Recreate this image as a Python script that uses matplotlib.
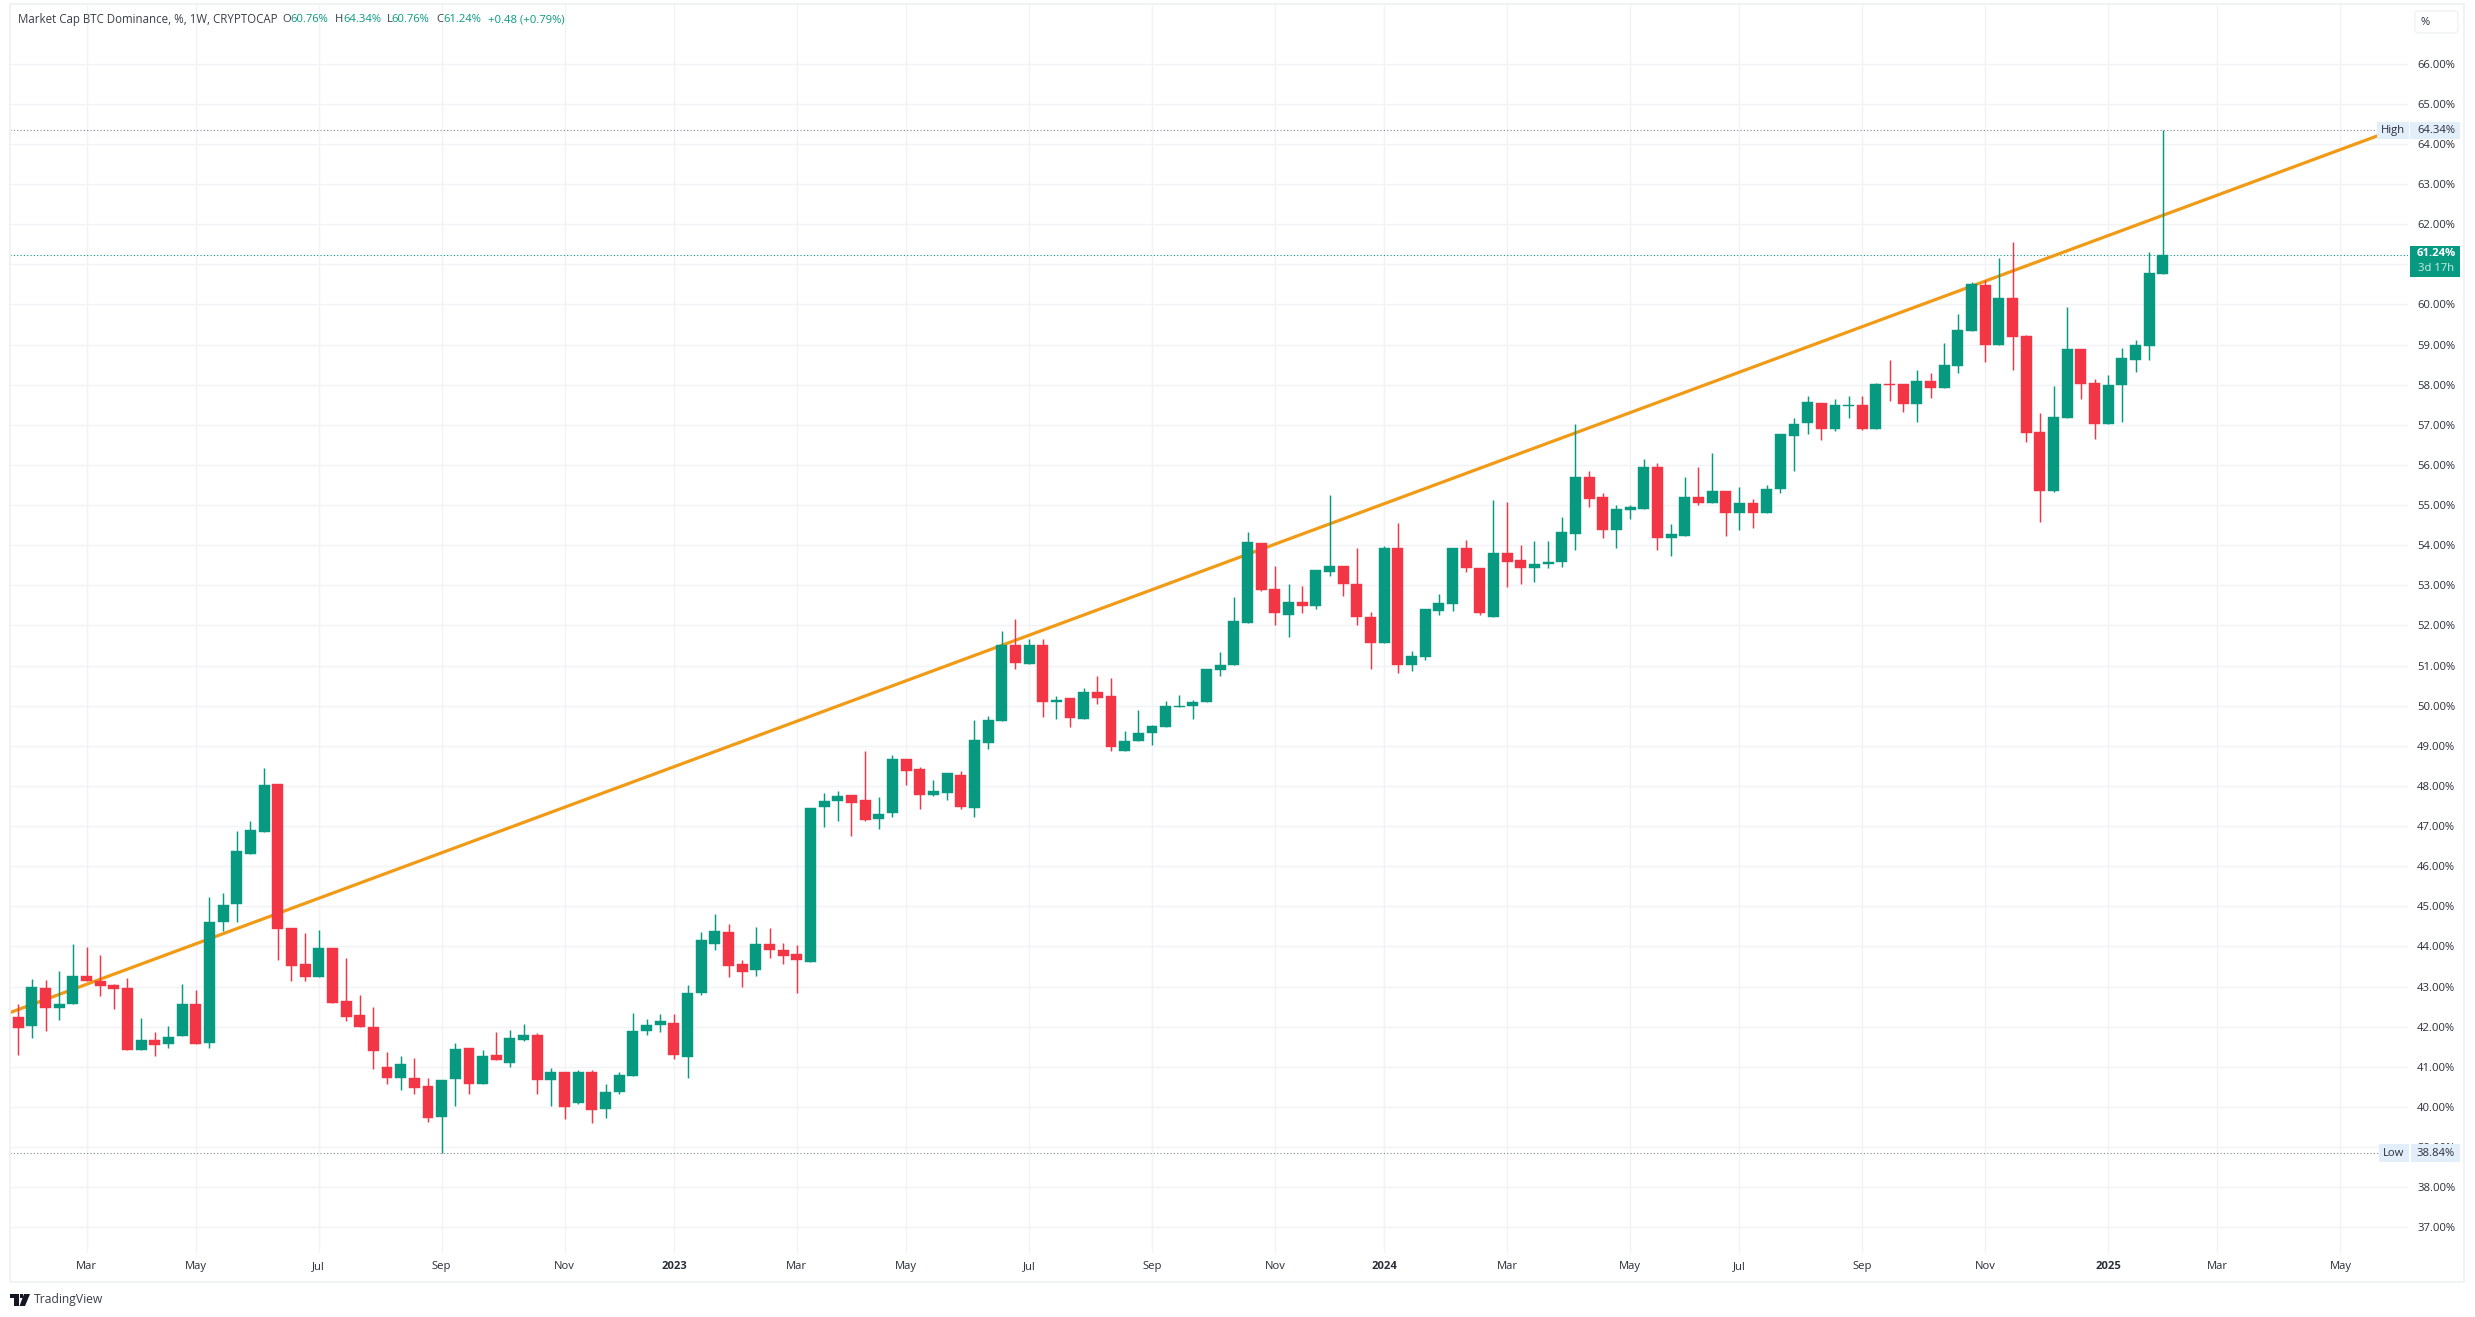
import matplotlib
matplotlib.use("Agg")
import matplotlib.pyplot as plt
from matplotlib.patches import Rectangle, Polygon, FancyBboxPatch

opens = [42.25,42.01,42.97,42.46,42.56,43.27,43.15,43.05,42.97,41.41,41.67,41.56,41.76,42.57,41.59,44.62,45.05,46.31,46.86,48.06,
44.46,43.55,43.23,43.95,42.63,42.28,41.98,41.00,40.73,40.71,40.53,39.74,40.69,41.48,40.56,41.30,41.09,41.68,41.80,40.66,
40.86,40.11,40.86,39.96,40.36,40.78,41.90,42.03,42.08,41.25,42.83,44.07,44.37,43.55,43.42,44.05,43.90,43.80,43.60,47.48,
47.63,47.78,47.66,47.18,47.33,48.68,48.43,47.78,47.83,48.28,47.46,49.08,49.61,51.52,51.05,51.50,50.08,50.18,49.68,50.33,
50.23,48.88,49.11,49.31,49.48,49.97,49.98,50.08,50.90,51.02,52.07,54.06,52.92,52.27,52.59,52.49,53.34,53.49,53.02,52.22,
51.57,53.94,51.02,51.22,52.35,52.54,53.94,53.44,52.22,53.81,53.62,53.42,53.52,53.59,54.29,55.69,55.19,54.37,54.87,54.91,
55.94,54.17,54.24,55.19,55.06,55.36,54.79,55.06,54.79,55.39,56.73,57.04,57.54,56.89,57.47,57.49,56.89,58.01,58.01,57.52,
58.09,57.91,58.46,59.34,60.48,58.99,60.16,59.21,56.82,55.35,57.17,58.89,58.04,57.02,57.99,58.61,58.96,60.76]
highs = [42.57,43.19,43.16,43.39,44.06,43.99,43.79,43.06,43.22,42.22,41.87,42.02,43.06,42.92,45.23,45.33,46.88,47.13,48.45,48.06,
44.46,44.34,44.41,43.96,43.71,42.79,42.49,41.37,41.28,41.22,40.72,40.68,41.60,41.48,41.43,41.87,41.92,42.07,41.83,40.98,
40.86,40.93,40.93,40.58,40.88,42.34,42.19,42.32,42.32,43.04,44.36,44.81,44.56,43.66,44.49,44.46,44.09,44.04,47.46,47.82,
47.87,47.78,48.87,47.72,48.77,48.68,48.47,48.15,48.33,48.37,49.65,49.75,51.86,52.16,51.66,51.66,50.24,50.18,50.45,50.75,
50.68,49.36,49.90,49.52,50.12,50.27,50.13,50.92,51.35,52.72,54.34,54.06,53.49,53.02,52.99,53.37,55.25,53.49,53.94,52.34,
53.99,54.56,51.37,52.40,52.79,53.94,54.14,53.44,55.13,55.08,54.01,54.11,54.11,54.69,57.03,55.86,55.29,55.01,55.01,56.14,
56.06,54.52,55.69,55.94,56.29,55.36,55.46,55.16,55.51,56.76,57.18,57.72,57.54,57.64,57.72,57.72,58.05,58.61,58.01,58.36,
58.30,59.05,59.76,60.55,60.60,61.15,61.55,59.23,57.29,57.96,59.93,58.89,58.14,58.24,58.91,59.11,61.30,64.34]
lows = [41.30,41.73,41.89,42.16,42.56,43.15,42.76,42.43,41.41,41.41,41.26,41.46,41.76,41.56,41.46,44.39,44.62,46.31,46.86,43.66,
43.15,43.15,43.23,42.60,42.13,41.99,40.94,40.56,40.43,40.33,39.63,38.84,40.03,40.31,40.56,41.16,40.99,41.65,40.31,40.03,
39.69,40.08,39.61,39.73,40.31,40.78,41.79,41.86,41.20,40.71,42.80,43.92,43.25,42.99,43.27,43.72,43.57,42.83,43.60,46.98,
47.13,46.76,47.12,46.92,47.23,48.03,47.43,47.76,47.66,47.43,47.23,48.93,49.61,50.92,51.05,49.73,49.68,49.48,49.66,50.05,
48.88,48.86,49.11,49.03,49.48,49.97,49.68,50.08,50.75,51.02,52.07,52.87,52.02,51.70,52.30,52.42,53.24,52.74,52.00,50.92,
51.57,50.82,50.87,51.15,52.27,52.37,53.34,52.27,52.22,52.97,53.04,53.09,53.42,53.45,53.89,54.94,54.19,53.92,54.64,54.91,
53.87,53.72,54.24,55.01,55.06,54.22,54.39,54.42,54.79,55.31,55.86,56.77,56.62,56.84,57.17,56.87,56.89,57.59,57.32,57.07,
57.66,57.91,58.29,59.34,58.56,58.99,58.36,56.57,54.57,55.32,57.17,57.64,56.64,57.02,57.07,58.31,58.61,60.76]
closes = [41.96,42.99,42.46,42.57,43.27,43.15,43.02,42.95,41.41,41.67,41.54,41.75,42.57,41.58,44.62,45.04,46.39,46.91,48.03,44.43,
43.52,43.23,43.95,42.60,42.25,41.99,41.39,40.73,41.08,40.48,39.72,40.68,41.45,40.56,41.28,41.16,41.73,41.80,40.68,40.88,
40.01,40.88,39.93,40.38,40.80,41.90,42.05,42.13,41.30,42.85,44.15,44.39,43.52,43.37,44.05,43.92,43.75,43.65,47.46,47.63,
47.76,47.58,47.16,47.31,48.68,48.38,47.78,47.88,48.33,47.48,49.15,49.65,51.50,51.07,51.50,50.08,50.15,49.70,50.33,50.20,
48.98,49.13,49.33,49.50,49.98,50.00,50.10,50.92,51.02,52.10,54.09,52.89,52.32,52.59,52.49,53.37,53.47,53.02,52.20,51.57,
53.94,51.02,51.25,52.40,52.57,53.94,53.44,52.32,53.81,53.59,53.44,53.54,53.59,54.32,55.71,55.14,54.37,54.89,54.94,55.96,
54.17,54.27,55.19,55.06,55.34,54.79,55.06,54.79,55.39,56.76,57.01,57.57,56.89,57.49,57.49,56.89,58.01,57.99,57.52,58.09,
57.91,58.49,59.36,60.50,58.99,60.16,59.18,56.79,55.35,57.19,58.89,58.01,57.02,57.99,58.66,58.99,60.78,61.24]

price_ticks = list(range(37, 67))
time_tick_pos = [5,13,22,31,40,48,57,65,74,83,92,100,109,118,126,135,144,153,161,170]
time_tick_labels = ["Mar","May","Jul","Sep","Nov","2023","Mar","May","Jul","Sep","Nov","2024","Mar","May","Jul","Sep","Nov","2025","Mar","May"]
trend_x = [-0.6, 173.1]
trend_y = [42.35, 64.25]
high_price, low_price, last_price = 64.34, 38.84, 61.24

GREEN, RED, GRID, TXT = "#089981", "#F23645", "#F1F3F6", "#2A2E39"
plt.rcParams["font.family"] = ["Open Sans", "DejaVu Sans"]
W, H = 2475, 1317
fig = plt.figure(figsize=(W/100, H/100), dpi=100, facecolor="white")
fx = lambda x: x / W
fy = lambda y: 1 - y / H

L, R, T, B = 10, 2408, 4, 1253
STEP = 13.66
ax = fig.add_axes([fx(L), fy(B), (R-L)/W, (B-T)/H])
ax.set_xlim((L-18.2)/STEP, (R-18.2)/STEP)
ax.set_ylim(37-(B-1227.3)/40.125, 37+(1227.3-T)/40.125)
for s in ax.spines.values():
    s.set_visible(False)
ax.set_axisbelow(True)
ax.grid(True, color=GRID, lw=1.0)
ax.yaxis.tick_right()
ax.set_yticks(price_ticks)
ax.set_yticklabels([f"{p:.2f}%" for p in price_ticks])
ax.set_xticks(time_tick_pos)
ax.set_xticklabels(time_tick_labels)
ax.tick_params(axis="both", length=0, labelsize=8.1, labelcolor=TXT)
ax.tick_params(axis="y", pad=6.5)
ax.tick_params(axis="x", pad=5.5)
for t in ax.get_xticklabels():
    if t.get_text().isdigit():
        t.set_fontweight("bold")

ax.plot(trend_x, trend_y, color="#F09A15", lw=2.3, zorder=2, solid_capstyle="butt")
ax.axhline(high_price, color="#7F8590", lw=0.8, ls=(0, (1, 2)), zorder=1.5)
ax.axhline(low_price, color="#7F8590", lw=0.8, ls=(0, (1, 2)), zorder=1.5)
ax.axhline(last_price, color=GREEN, lw=0.8, ls=(0, (1, 2)), zorder=1.5)

xs = list(range(len(opens)))
cols = [GREEN if c >= o else RED for o, c in zip(opens, closes)]
cols[137] = RED
ax.vlines(xs, lows, highs, colors=cols, lw=1.05, zorder=3)
ax.bar(xs, [abs(c-o) for o, c in zip(opens, closes)], bottom=[min(o, c) for o, c in zip(opens, closes)],
       width=0.8, color=cols, edgecolor=cols, lw=0.3, zorder=4)

def box(x0, y0, x1, y1, fc, ec="none", lw=0):
    fig.patches.append(Rectangle((fx(x0), fy(y1)), (x1-x0)/W, (y1-y0)/H, transform=fig.transFigure,
                                 facecolor=fc, edgecolor=ec, lw=lw, figure=fig))

box(10, 4, 2464, 1282, "none", "#EFF1F5", 1.3)
tag = "#E3EEFB"
box(2377, 122, 2409, 139, tag); box(2410, 122, 2460, 139, tag)
box(2379, 1144, 2409, 1162, tag); box(2411, 1144, 2460, 1162, tag)
box(2410, 246, 2460, 277, GREEN)
fig.patches.append(FancyBboxPatch((fx(2415), fy(33)), 43/W, 22/H, boxstyle="round,pad=0,rounding_size=0.002",
                                  transform=fig.transFigure, facecolor="white", edgecolor="#F1F3F6", lw=1.2, figure=fig))

def label(x, y, s, color=TXT, size=8.1, ha="center", weight="normal"):
    fig.text(fx(x), fy(y), s, color=color, fontsize=size, ha=ha, va="center", fontweight=weight)

label(2425, 22.5, "%")
label(2393, 130, "High")
label(2436, 130.5, f"{high_price:.2f}%")
label(2394, 1153.5, "Low")
label(2436, 1153.5, f"{low_price:.2f}%")
label(2436, 254, f"{last_price:.2f}%", color="white", weight="bold")
label(2436, 268.5, "3d 17h", color="#CDEDE6")

label(18, 20, "Market Cap BTC Dominance, %, 1W, CRYPTOCAP", ha="left", size=8.3, color="#3A3E49")
for x, k, v in [(282, "O", "60.76%"), (335, "H", "64.34%"), (386.5, "L", "60.76%"), (436, "C", "61.24%")]:
    fig.text(fx(x), fy(20), k, color="#3A3E49", fontsize=8.1, ha="left", va="center")
    label(x + (8 if k in "HO" else 5 if k == "L" else 7), 20, v, color=GREEN, ha="left", size=8.1)
label(488, 20, "+0.48 (+0.79%)", color=GREEN, ha="left", size=8.1)

def poly(pts):
    fig.patches.append(Polygon([(fx(x), fy(y)) for x, y in pts], closed=True, transform=fig.transFigure,
                               facecolor="#131722", edgecolor="none", figure=fig))
poly([(10, 1294), (19, 1294), (19, 1306), (14, 1306), (14, 1298), (10, 1298)])
poly([(24, 1294), (30, 1294), (25, 1306), (19.5, 1306)])
poly([(19.5, 1294), (22.5, 1294), (22.5, 1297.5), (19.5, 1297.5)])
label(34, 1300, "TradingView", ha="left", size=8.7, color="#3A3E49")

fig.savefig("out.png", dpi=100, facecolor="white")
